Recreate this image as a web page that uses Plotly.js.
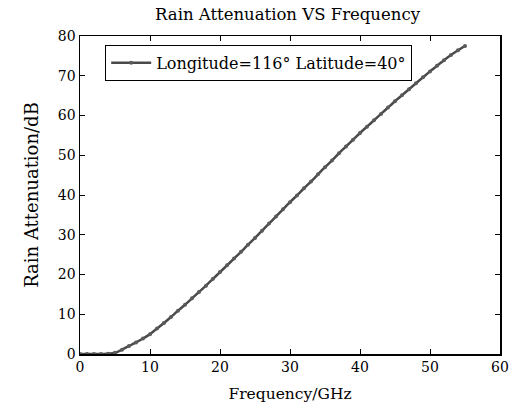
<!DOCTYPE html>
<html>
<head>
<meta charset="utf-8">
<script src="https://cdn.plot.ly/plotly-3.0.1.min.js"></script>
<style>html,body{margin:0;padding:0;background:#fff;}#chart{width:518px;height:410px;}</style>
</head>
<body>
<div id="chart"></div>
<script>
const frequency = [0,1,2,3,4,5,6,7,8,9,10,11,12,13,14,15,16,17,18,19,20,21,22,23,24,25,26,27,28,29,30,31,32,33,34,35,36,37,38,39,40,41,42,43,44,45,46,47,48,49,50,51,52,53,54,55];
const attenuation = [0,0,0,0,0.05,0.3,1.1,2.0,2.9,3.9,5.0,6.4,7.8,9.3,10.9,12.4,14.0,15.6,17.2,18.9,20.6,22.3,24.0,25.7,27.5,29.2,31.0,32.8,34.6,36.4,38.2,39.9,41.7,43.4,45.2,47.0,48.7,50.5,52.2,53.9,55.6,57.2,58.8,60.4,62.0,63.6,65.1,66.6,68.1,69.6,71.1,72.5,73.9,75.2,76.4,77.5];
const seriesName = "Longitude=116° Latitude=40°";
const xTicks = [0,10,20,30,40,50,60];
const yTicks = [0,10,20,30,40,50,60,70,80];

const FONT = "DejaVu Serif, Liberation Serif, serif";

const trace = {
  x: frequency,
  y: attenuation,
  name: seriesName,
  mode: "lines+markers",
  line: {color: "#4a4a4a", width: 2.5, shape: "spline", smoothing: 0.6},
  marker: {color: "#5a5a5a", size: 4, symbol: "circle"},
  showlegend: true
};

const axisCommon = {
  showline: true, linecolor: "#000", linewidth: 1.5, mirror: "ticks",
  ticks: "inside", ticklen: 5, tickwidth: 1, tickcolor: "#000",
  showgrid: false, zeroline: false,
  tickfont: {family: FONT, size: 14, color: "#000"}
};

const layout = {
  width: 518, height: 410,
  margin: {l: 80, r: 18, t: 36, b: 56},
  paper_bgcolor: "#fff", plot_bgcolor: "#fff",
  font: {family: FONT, color: "#000"},
  title: {text: "Rain Attenuation VS Frequency", font: {family: FONT, size: 16.5, color: "#000"}, x: 0.555, xanchor: "center", y: 0.966, yanchor: "middle"},
  xaxis: Object.assign({}, axisCommon, {
    range: [0, 60], tickvals: xTicks, ticktext: xTicks.map(String),
    title: {text: "Frequency/GHz", font: {family: FONT, size: 15.5, color: "#000"}, standoff: 14}
  }),
  yaxis: Object.assign({}, axisCommon, {
    range: [0, 80], tickvals: yTicks, ticktext: yTicks.map(String),
    title: {text: "Rain Attenuation/dB", font: {family: FONT, size: 18, color: "#000"}, standoff: 14}
  }),
  legend: {
    x: 0.06, y: 0.972, xanchor: "left", yanchor: "top",
    bgcolor: "#fff", bordercolor: "#000", borderwidth: 1,
    font: {family: FONT, size: 16, color: "#000"},
    itemwidth: 40, tracegroupgap: 0
  },
  showlegend: true
};

Plotly.newPlot("chart", [trace], layout, {staticPlot: true, displayModeBar: false});
</script>
</body>
</html>
